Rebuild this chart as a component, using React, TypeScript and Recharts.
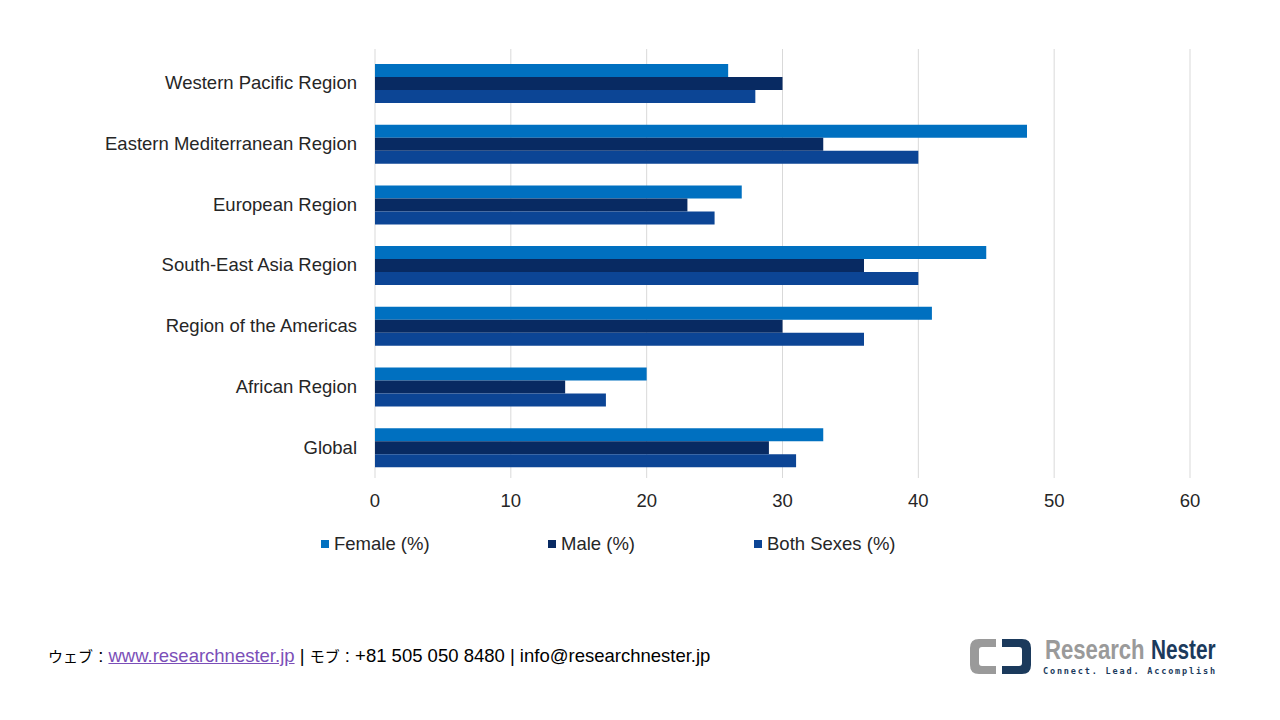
import React from "react";
import { BarChart, Bar, XAxis, YAxis, CartesianGrid } from "recharts";

// Share of adults (%) by WHO region, split by sex
const regions = [
  "Western Pacific Region",
  "Eastern Mediterranean Region",
  "European Region",
  "South-East Asia Region",
  "Region of the Americas",
  "African Region",
  "Global",
];
const female = [26, 48, 27, 45, 41, 20, 33];
const male = [30, 33, 23, 36, 30, 14, 29];
const bothSexes = [28, 40, 25, 40, 36, 17, 31];
const xTicks = [0, 10, 20, 30, 40, 50, 60];

const seriesNames = ["Female (%)", "Male (%)", "Both Sexes (%)"];
const seriesColors = ["#0070C0", "#082A62", "#0C4595"];

const data = regions.map((r, i) => ({
  region: r,
  female: female[i],
  male: male[i],
  both: bothSexes[i],
}));

const FONT = "'Liberation Sans', Arial, sans-serif";
const FS = 18.5;

const YTick = (props: any) => (
  <text
    x={357}
    y={props.y}
    dy={6.5}
    textAnchor="end"
    fontFamily={FONT}
    fontSize={FS}
    fill="#262626"
  >
    {props.payload.value}
  </text>
);

const XTick = (props: any) => (
  <text
    x={props.x}
    y={507}
    textAnchor="middle"
    fontFamily={FONT}
    fontSize={FS}
    fill="#262626"
  >
    {props.payload.value}
  </text>
);

const legendX = [321, 548, 754];

const ChartLegend = () => (
  <div style={{ position: "absolute", left: 0, top: 533, width: 1280, height: 24 }}>
    {seriesNames.map((n, i) => (
      <div
        key={n}
        style={{
          position: "absolute",
          left: legendX[i],
          top: 0,
          display: "flex",
          alignItems: "center",
          fontFamily: FONT,
          fontSize: FS,
          color: "#262626",
          whiteSpace: "nowrap",
        }}
      >
        <span
          style={{
            display: "inline-block",
            width: 8,
            height: 8,
            background: seriesColors[i],
            marginRight: 5,
          }}
        />
        {n}
      </div>
    ))}
  </div>
);

const Logo = () => (
  <svg
    width={270}
    height={50}
    style={{ position: "absolute", left: 964, top: 632 }}
  >
    {/* grey left link */}
    <path
      d="M32 7 H15 Q6 7 6 16 V33 Q6 42 15 42 H32 V34 H18 Q15 34 15 31 V18 Q15 15 18 15 H32 Z"
      fill="#9a9a9a"
    />
    {/* navy right link */}
    <path
      d="M38 7 H58 Q67 7 67 16 V33 Q67 42 58 42 H38 V34 H55 Q58 34 58 31 V18 Q58 15 55 15 H38 Z"
      fill="#1B3A5C"
    />
    {/* condensed word mark */}
    <g transform="translate(81 27) scale(0.82 1)">
      <text x={0} y={0} fontFamily={FONT} fontWeight="bold" fontSize={27} fill="#9a9a9a">
        Research
      </text>
    </g>
    <g transform="translate(187 27) scale(0.77 1)">
      <text x={0} y={0} fontFamily={FONT} fontWeight="bold" fontSize={27} fill="#1B3A5C">
        Nester
      </text>
    </g>
    <text
      x={79}
      y={42}
      fontFamily="'DejaVu Sans Mono', monospace"
      fontWeight="bold"
      fontSize={8.5}
      fill="#1B3A5C"
      textLength={172}
      lengthAdjust="spacing"
    >
      Connect. Lead. Accomplish
    </text>
  </svg>
);

export default function App() {
  return (
    <div
      style={{
        position: "absolute",
        left: 0,
        top: 0,
        width: 1280,
        height: 720,
        background: "#ffffff",
        overflow: "hidden",
      }}
    >
      <BarChart
        width={1280}
        height={720}
        data={data}
        layout="vertical"
        margin={{ top: 52.5, right: 90, bottom: 212.6, left: 0 }}
        barGap={0}
        barCategoryGap={11.5}
      >
        <CartesianGrid
          horizontal={false}
          stroke="#d9d9d9"
          strokeWidth={1}
          y={49}
          height={429}
        />
        <XAxis
          type="number"
          domain={[0, 60]}
          ticks={xTicks}
          axisLine={false}
          tickLine={false}
          height={30}
          tick={<XTick />}
        />
        <YAxis
          type="category"
          dataKey="region"
          width={375}
          axisLine={false}
          tickLine={false}
          tick={<YTick />}
          interval={0}
        />
        <Bar dataKey="female" name={seriesNames[0]} fill={seriesColors[0]} isAnimationActive={false} />
        <Bar dataKey="male" name={seriesNames[1]} fill={seriesColors[1]} isAnimationActive={false} />
        <Bar dataKey="both" name={seriesNames[2]} fill={seriesColors[2]} isAnimationActive={false} />
      </BarChart>
      <ChartLegend />
      <div
        style={{
          position: "absolute",
          left: 48,
          top: 645,
          fontFamily: FONT,
          fontSize: FS,
          color: "#000",
          whiteSpace: "nowrap",
        }}
      >
        <span style={{ fontFamily: "'Noto Sans CJK JP', sans-serif", fontSize: 15 }}>ウェブ</span>
        {" : "}
        <span style={{ color: "#7B4FB8", textDecoration: "underline" }}>www.researchnester.jp</span>
        {" | "}
        <span style={{ fontFamily: "'Noto Sans CJK JP', sans-serif", fontSize: 15 }}>モブ</span>
        {" : +81 505 050 8480 | info@researchnester.jp"}
      </div>
      <Logo />
    </div>
  );
}
